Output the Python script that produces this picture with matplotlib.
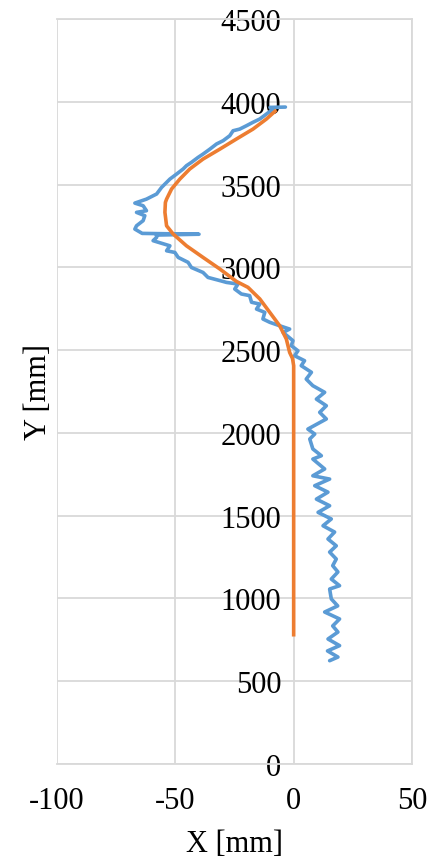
import matplotlib
matplotlib.use("Agg")
import matplotlib.pyplot as plt

# Measured path (blue)
meas_x = [15.2, 18.7, 14.3, 19.4, 14.5, 18.7, 16.5, 19.4, 13.1, 18.6, 15.9, 15.2, 19.4, 15.9,
          18.7, 16.5, 18.0, 15.2, 18.0, 14.5, 17.3, 12.4, 15.9, 10.3, 15.2, 9.6, 14.5, 8.9,
          15.2, 8.1, 13.1, 8.1, 11.7, 8.1, 6.8, 8.9, 6.0, 13.8, 11.0, 13.8, 9.6, 13.1, 8.1,
          5.3, 7.5, 3.2, 4.6, 0.4, 1.8, -1.0, -0.3, -4.5, -1.7, -5.9, -10.1, -13.0, -12.2,
          -15.7, -14.3, -17.8, -18.6, -22.1, -24.9, -23.5, -28.4, -31.2, -36.2, -38.3, -43.2,
          -44.6, -48.8, -50.2, -53.7, -52.3, -59.4, -57.9, -58.0, -40.0, -64.0, -67.1, -66.4,
          -63.6, -62.9, -66.4, -62.2, -63.6, -67.1, -62.2, -57.9, -55.8, -52.3, -49.5, -46.7,
          -45.3, -43.2, -40.4, -38.3, -35.4, -32.6, -29.8, -27.0, -25.6, -22.8, -20.0, -17.2,
          -14.3, -11.5, -8.7, -10.0, -3.5]
meas_y = [624, 646, 683, 715, 755, 797, 834, 876, 918, 955, 997, 1057, 1077, 1117,
          1160, 1198, 1238, 1280, 1318, 1359, 1401, 1439, 1480, 1520, 1560, 1600, 1642, 1681,
          1721, 1741, 1782, 1842, 1862, 1903, 1963, 1993, 2023, 2084, 2124, 2164, 2204, 2245, 2285,
          2325, 2366, 2406, 2436, 2466, 2496, 2527, 2557, 2607, 2627, 2647, 2668, 2688, 2728,
          2748, 2778, 2789, 2829, 2839, 2869, 2899, 2909, 2920, 2939, 2969, 2999,
          3030, 3060, 3090, 3100, 3130, 3161, 3181, 3195, 3200, 3205, 3231, 3251,
          3282, 3312, 3332, 3342, 3372, 3388, 3412, 3443, 3483, 3533, 3563, 3594,
          3614, 3634, 3664, 3684, 3714, 3745, 3765, 3795, 3825, 3835, 3855, 3876,
          3896, 3926, 3956, 3966, 3968]

# Reference path (orange)
ref_x = [0, 0, -0.5, -1.7, -3.1, -5.9, -10.1, -14.3, -19.3, -24.2, -31.2, -38.3, -45.3,
         -50.9, -53.7, -54.4, -54.2, -53.7, -51.6, -48.1, -43.9, -38.3, -31.2, -24.2,
         -17.2, -11.5, -7.3]
ref_y = [770, 2406, 2450, 2486, 2567, 2647, 2728, 2809, 2879, 2915, 2990, 3060, 3130,
         3201, 3251, 3332, 3392, 3412, 3473, 3533, 3594, 3654, 3714, 3775,
         3835, 3896, 3950]

x_ticks = [-100, -50, 0, 50]
y_ticks = [0, 500, 1000, 1500, 2000, 2500, 3000, 3500, 4000, 4500]

plt.rcParams['font.family'] = ['Liberation Serif', 'DejaVu Serif']
FS = 22
GRID = '#d9d9d9'

fig = plt.figure(figsize=(4.41, 8.62), dpi=100)
ax = fig.add_axes([57/441, 97/862, 355/441, 745/862])

ax.plot(meas_x, meas_y, color='#5B9BD5', lw=2.6, zorder=3,
        solid_joinstyle='round', solid_capstyle='round')
ax.plot(ref_x, ref_y, color='#ED7D31', lw=2.6, zorder=4,
        solid_joinstyle='round', solid_capstyle='butt')

ax.set_xlim(-100, 50)
ax.set_ylim(0, 4500)
ax.set_xticks(x_ticks)
ax.set_yticks(y_ticks)
ax.set_xticklabels([str(v) for v in x_ticks])
ax.set_yticklabels([str(v) for v in y_ticks])
ax.grid(True, color=GRID, lw=1.3, zorder=0)
ax.set_axisbelow(True)

for s in ['top', 'right', 'bottom']:
    ax.spines[s].set_color(GRID)
    ax.spines[s].set_linewidth(1.3)
ax.spines['left'].set_position(('data', 0))
ax.spines['left'].set_visible(False)

ax.tick_params(axis='y', length=0, pad=9, labelsize=FS)
ax.tick_params(axis='x', length=0, pad=16, labelsize=FS)

fig.text(234.5/441, 1 - 845/862, 'X [mm]', ha='center', va='center', fontsize=FS)
fig.text(38/441, 1 - 392/862, 'Y [mm]', ha='center', va='center', rotation=90, fontsize=FS)

fig.savefig('out.png', dpi=100)
